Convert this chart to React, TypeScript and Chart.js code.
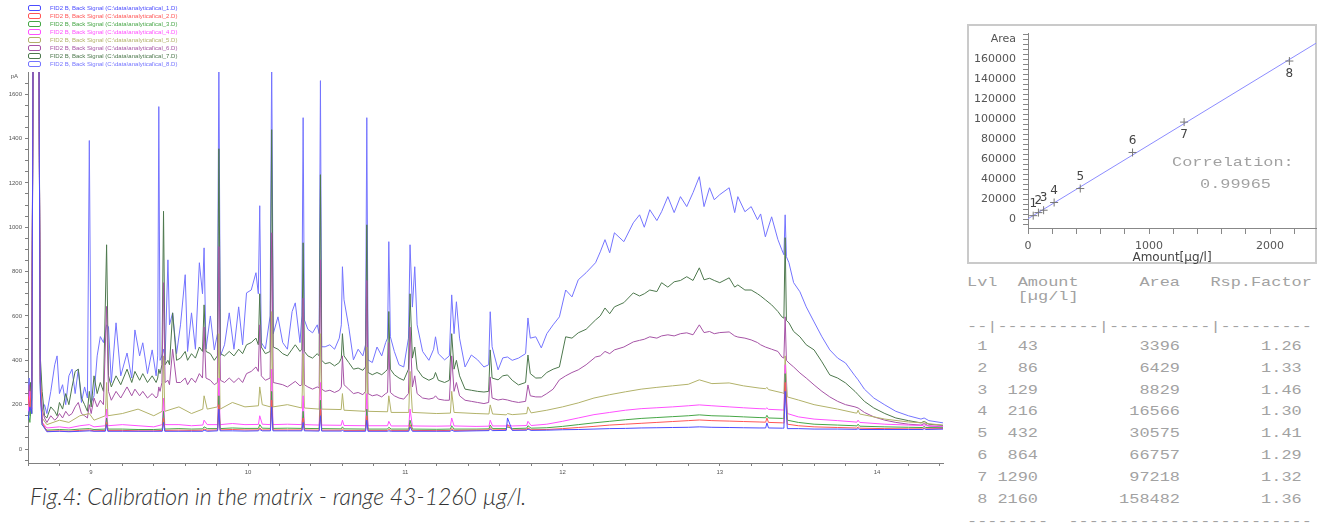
import React, { useEffect, useRef } from 'react';
import { Chart, registerables } from 'chart.js';
Chart.register(...registerables);

// ---------- Chromatogram data ----------
const seriesNames = [
  'FID2 B, Back Signal (C:\\data\\analytical\\cal_1.D)',
  'FID2 B, Back Signal (C:\\data\\analytical\\cal_2.D)',
  'FID2 B, Back Signal (C:\\data\\analytical\\cal_3.D)',
  'FID2 B, Back Signal (C:\\data\\analytical\\cal_4.D)',
  'FID2 B, Back Signal (C:\\data\\analytical\\cal_5.D)',
  'FID2 B, Back Signal (C:\\data\\analytical\\cal_6.D)',
  'FID2 B, Back Signal (C:\\data\\analytical\\cal_7.D)',
  'FID2 B, Back Signal (C:\\data\\analytical\\cal_8.D)',
];
const seriesColors = ['#4c4cff', '#ff5656', '#46a646', '#ff50ff', '#b2b26a', '#a654a6', '#4d784d', '#7474ff'];

const timesFine = [
  8.600, 8.608, 8.616, 8.624, 8.632, 8.640, 8.670, 8.678, 8.690, 8.705,
  8.720, 8.745, 8.770, 8.785, 8.800, 8.820, 8.840, 8.860, 8.880, 8.900,
  8.920, 8.940, 8.960, 8.978, 8.990, 9.002, 9.020, 9.040, 9.060, 9.080,
  9.100, 9.112, 9.130, 9.160, 9.190, 9.230, 9.260, 9.280, 9.310, 9.330,
  9.360, 9.390, 9.415, 9.425, 9.432, 9.440, 9.452, 9.462, 9.472, 9.490,
  9.500, 9.520, 9.545, 9.570, 9.600, 9.615, 9.640, 9.665, 9.690, 9.710,
  9.720, 9.732, 9.760, 9.785, 9.805, 9.814, 9.824, 9.850, 9.880, 9.910,
  9.940, 9.965, 9.990, 10.020, 10.050, 10.065, 10.074, 10.084, 10.110, 10.140,
  10.150, 10.160, 10.190, 10.220, 10.250, 10.280, 10.300, 10.330, 10.342, 10.350,
  10.358, 10.380, 10.410, 10.440, 10.452, 10.460, 10.468, 10.490, 10.520, 10.550,
  10.580, 10.593, 10.600, 10.610, 10.640, 10.670, 10.700, 10.730, 10.747, 10.755,
  10.763, 10.790, 10.820, 10.850, 10.875, 10.887, 10.895, 10.905, 10.930, 10.960,
  10.990, 11.020, 11.030, 11.045, 11.060, 11.075, 11.110, 11.150, 11.180, 11.192,
  11.210, 11.250, 11.280, 11.295, 11.310, 11.325, 11.345, 11.380, 11.420, 11.460,
  11.500, 11.530, 11.540, 11.552, 11.590, 11.620, 11.650, 11.680, 11.720, 11.765,
  11.780, 11.795, 11.830, 11.865, 11.900, 11.940, 11.980, 12.020, 12.060, 12.100,
  12.150, 12.210, 12.240, 12.270, 12.300, 12.330, 12.390, 12.450, 12.490, 12.520,
  12.555, 12.600, 12.630, 12.670, 12.710, 12.750, 12.790, 12.830, 12.870, 12.900,
  12.935, 12.965, 13.000, 13.060, 13.095, 13.115, 13.160, 13.200, 13.240, 13.260,
  13.290, 13.330, 13.370, 13.395, 13.408, 13.416, 13.424, 13.440, 13.470, 13.510,
  13.550, 13.600, 13.650, 13.700, 13.750, 13.800, 13.860, 13.880, 13.920, 13.980,
  14.050, 14.120, 14.200, 14.280, 14.300, 14.330, 14.420,
];

const level8Signal = [
  260, 320, 200, 280, 1760, 1760, 1760, 380, 170, 200,
  160, 260, 380, 420, 250, 290, 200, 330, 360, 250,
  360, 210, 280, 230, 1391, 210, 240, 420, 507, 480,
  560, 551, 300, 569, 330, 433, 320, 537, 420, 479,
  340, 447, 330, 420, 1544, 400, 420, 450, 402, 853,
  560, 614, 430, 560, 786, 440, 614, 450, 840, 700,
  907, 451, 600, 447, 520, 1760, 420, 470, 614, 450,
  641, 470, 704, 717, 795, 700, 1097, 480, 451, 600,
  1760, 520, 596, 480, 450, 620, 659, 480, 600, 1494,
  582, 540, 524, 560, 520, 1661, 461, 461, 470, 450,
  500, 560, 822, 673, 551, 402, 450, 420, 470, 1494,
  402, 390, 460, 420, 480, 500, 935, 506, 440, 380,
  370, 500, 921, 640, 822, 560, 440, 400, 450, 506,
  430, 402, 420, 695, 520, 664, 500, 370, 424, 402,
  370, 380, 619, 461, 357, 411, 415, 400, 410, 430,
  591, 500, 506, 456, 520, 560, 596, 717, 686, 763,
  795, 840, 889, 944, 885, 975, 935, 1020, 1056, 1000,
  1079, 1030, 1070, 1138, 1066, 1138, 1093, 1156, 1228, 1093,
  1178, 1124, 1147, 1178, 1066, 1138, 1070, 1093, 1034, 1060,
  957, 1047, 944, 898, 876, 1056, 867, 840, 750, 709,
  641, 573, 506, 447, 410, 388, 330, 312, 270, 230,
  199, 170, 150, 135, 140, 128, 118,
];

const level7Signal = [
  230, 180, 300, 160, 1760, 1760, 1760, 420, 260, 150,
  140, 190, 170, 150, 210, 180, 250, 200, 280, 350,
  360, 230, 200, 170, 260, 190, 330, 250, 300, 260,
  921, 330, 280, 330, 290, 360, 300, 350, 310, 340,
  300, 330, 300, 320, 360, 340, 380, 1072, 380, 400,
  380, 614, 400, 410, 440, 400, 430, 410, 460, 440,
  650, 440, 430, 400, 420, 1354, 430, 420, 440, 420,
  450, 430, 470, 480, 500, 470, 700, 460, 430, 440,
  1440, 460, 450, 430, 420, 450, 470, 440, 450, 930,
  440, 420, 410, 430, 420, 1237, 400, 385, 390, 375,
  390, 410, 520, 420, 390, 360, 365, 355, 370, 1011,
  345, 335, 345, 335, 350, 360, 620, 360, 335, 320,
  310, 360, 700, 410, 460, 360, 325, 310, 320, 345,
  310, 300, 310, 520, 360, 400, 330, 270, 265, 260,
  257, 260, 447, 320, 312, 330, 334, 310, 289, 300,
  424, 340, 320, 321, 345, 360, 370, 506, 500, 524,
  540, 582, 600, 636, 610, 641, 660, 704, 690, 700,
  717, 710, 750, 730, 754, 760, 777, 760, 817, 763,
  770, 760, 750, 772, 730, 740, 717, 717, 700, 690,
  673, 650, 620, 596, 590, 953, 580, 569, 530, 506,
  470, 447, 393, 334, 320, 298, 260, 245, 215, 185,
  160, 140, 128, 118, 125, 112, 106,
];

const level6Signal = [
  190, 290, 150, 320, 1760, 1760, 1760, 300, 180, 140,
  120, 150, 130, 140, 160, 140, 170, 150, 160, 190,
  210, 160, 150, 140, 200, 160, 230, 190, 220, 200,
  643, 260, 220, 260, 230, 280, 240, 270, 240, 260,
  230, 250, 230, 240, 280, 260, 300, 750, 300, 310,
  290, 450, 300, 300, 320, 290, 320, 300, 340, 320,
  550, 320, 310, 290, 300, 913, 310, 300, 320, 300,
  320, 300, 340, 350, 370, 350, 560, 330, 310, 320,
  975, 300, 295, 290, 280, 295, 305, 285, 290, 680,
  290, 280, 270, 280, 275, 853, 270, 260, 265, 255,
  265, 280, 420, 290, 270, 250, 255, 245, 260, 760,
  250, 240, 245, 235, 250, 255, 480, 255, 240, 230,
  225, 250, 550, 280, 330, 250, 230, 225, 230, 240,
  225, 220, 220, 420, 260, 300, 240, 220, 215, 210,
  205, 210, 325, 230, 221, 225, 221, 215, 210, 215,
  289, 240, 235, 235, 250, 270, 312, 330, 345, 357,
  380, 415, 420, 440, 430, 447, 460, 483, 490, 495,
  506, 500, 510, 515, 510, 520, 524, 515, 560, 525,
  530, 520, 525, 528, 510, 505, 500, 492, 480, 470,
  460, 450, 440, 415, 410, 596, 400, 388, 370, 343,
  320, 289, 260, 235, 215, 200, 190, 185, 165, 145,
  130, 120, 112, 108, 115, 104, 100,
];

const timesCoarse = [
  8.600, 8.612, 8.624, 8.632, 8.670, 8.678, 8.690, 8.720, 8.800, 8.860,
  8.930, 8.990, 9.020, 9.092, 9.100, 9.108, 9.200, 9.300, 9.400, 9.454,
  9.462, 9.470, 9.560, 9.640, 9.712, 9.720, 9.740, 9.806, 9.814, 9.822,
  9.900, 9.980, 10.066, 10.074, 10.090, 10.142, 10.150, 10.158, 10.250, 10.342,
  10.350, 10.358, 10.452, 10.460, 10.468, 10.592, 10.600, 10.610, 10.747, 10.755,
  10.763, 10.887, 10.895, 10.910, 11.022, 11.030, 11.045, 11.200, 11.287, 11.295,
  11.310, 11.450, 11.532, 11.540, 11.555, 11.642, 11.650, 11.680, 11.772, 11.780,
  11.800, 11.900, 12.000, 12.100, 12.200, 12.300, 12.400, 12.500, 12.600, 12.700,
  12.800, 12.870, 12.950, 13.060, 13.150, 13.250, 13.292, 13.300, 13.310, 13.400,
  13.408, 13.416, 13.430, 13.500, 13.600, 13.750, 13.860, 13.872, 13.880, 13.890,
  14.050, 14.200, 14.292, 14.300, 14.310, 14.420,
];

const level5Signal = [
  200, 150, 260, 1760, 1760, 350, 140, 110, 130, 120,
  150, 160, 130, 150, 300, 150, 160, 180, 150, 170,
  420, 170, 190, 160, 180, 240, 180, 190, 520, 180,
  210, 190, 195, 280, 200, 190, 620, 190, 200, 185,
  430, 185, 180, 520, 180, 178, 250, 175, 170, 460,
  170, 168, 240, 165, 165, 350, 165, 160, 162, 260,
  165, 160, 158, 199, 158, 154, 160, 155, 160, 190,
  163, 175, 190, 208, 230, 245, 258, 270, 278, 285,
  292, 312, 295, 298, 285, 275, 272, 278, 268, 253,
  250, 420, 235, 221, 200, 180, 163, 162, 175, 158,
  135, 122, 118, 125, 115, 108,
];

const level4Signal = [
  150, 260, 180, 1760, 1760, 300, 120, 95, 100, 95,
  105, 110, 100, 105, 180, 105, 110, 105, 100, 110,
  230, 110, 110, 105, 108, 130, 110, 110, 320, 110,
  115, 110, 111, 150, 112, 110, 360, 110, 112, 110,
  240, 110, 108, 300, 108, 107, 130, 106, 105, 250,
  105, 105, 125, 104, 104, 180, 104, 103, 104, 140,
  104, 102, 103, 130, 104, 104, 108, 104, 106, 125,
  106, 112, 125, 140, 155, 165, 175, 182, 186, 190,
  195, 199, 195, 190, 186, 182, 181, 186, 179, 176,
  175, 380, 160, 145, 135, 128, 122, 121, 130, 120,
  112, 108, 106, 110, 105, 102,
];

const level3Signal = [
  170, 120, 230, 1760, 1760, 280, 110, 85, 88, 86,
  90, 92, 88, 90, 140, 90, 90, 88, 88, 90,
  170, 90, 92, 90, 91, 100, 92, 92, 240, 92,
  95, 93, 93, 110, 94, 93, 260, 93, 94, 93,
  170, 93, 92, 220, 92, 91, 100, 91, 90, 180,
  90, 90, 98, 90, 90, 130, 90, 89, 90, 105,
  90, 90, 91, 108, 92, 92, 100, 92, 94, 105,
  94, 96, 102, 110, 118, 125, 132, 138, 142, 146,
  150, 154, 150, 148, 145, 142, 141, 152, 140, 138,
  137, 340, 130, 120, 112, 108, 105, 104, 112, 103,
  100, 98, 97, 102, 97, 96,
];

const level2Signal = [
  240, 180, 300, 1760, 1760, 320, 120, 80, 82, 80,
  84, 86, 82, 84, 120, 84, 84, 82, 82, 84,
  140, 84, 85, 84, 85, 90, 85, 86, 200, 86,
  88, 86, 86, 95, 86, 86, 220, 86, 86, 86,
  140, 86, 85, 180, 85, 85, 90, 84, 84, 150,
  84, 84, 88, 84, 84, 110, 84, 83, 84, 92,
  84, 85, 86, 96, 86, 87, 110, 86, 87, 95,
  87, 88, 92, 97, 102, 108, 112, 116, 120, 124,
  128, 131, 128, 126, 124, 122, 121, 140, 120, 118,
  117, 300, 112, 105, 100, 97, 95, 94, 100, 94,
  92, 91, 91, 96, 91, 92,
];

const level1Signal = [
  130, 190, 160, 1760, 1760, 260, 110, 78, 80, 78,
  80, 82, 80, 80, 110, 80, 80, 80, 80, 80,
  120, 80, 80, 80, 80, 85, 80, 82, 180, 82,
  82, 81, 82, 88, 82, 82, 190, 82, 82, 82,
  120, 82, 81, 150, 81, 81, 84, 80, 80, 130,
  80, 80, 82, 80, 80, 100, 80, 80, 80, 86,
  80, 82, 83, 90, 83, 84, 140, 84, 85, 90,
  84, 85, 87, 88, 90, 92, 93, 95, 96, 97,
  98, 100, 98, 97, 96, 95, 95, 118, 95, 94,
  94, 260, 92, 92, 90, 90, 89, 89, 92, 88,
  88, 88, 88, 92, 88, 90,
];

const xTickLabels = [9, 10, 11, 12, 13, 14];
const yTickLabels = [0, 200, 400, 600, 800, 1000, 1200, 1400, 1600];
const yUnitLabel = 'pA';

// ---------- Calibration data ----------
const calibLevels = [1, 2, 3, 4, 5, 6, 7, 8];
const calibAmounts = [43, 86, 129, 216, 432, 864, 1290, 2160];
const calibAreas = [3396, 6429, 8829, 16566, 30575, 66757, 97218, 158482];
const calibRspFactors = ['1.26', '1.33', '1.46', '1.30', '1.41', '1.29', '1.32', '1.36'];
const fitAmounts = [0, 2380];
const fitAreas = [259, 176340];
const correlationValue = '0.99965';
const calibYTickLabels = [0, 20000, 40000, 60000, 80000, 100000, 120000, 140000, 160000];
const calibXTickLabels = [0, 1000, 2000];

// label placement (style only)
const calibLabelBelow = [false, false, false, false, false, false, true, true];

const signalSets = [
  { times: timesCoarse, values: level1Signal },
  { times: timesCoarse, values: level2Signal },
  { times: timesCoarse, values: level3Signal },
  { times: timesCoarse, values: level4Signal },
  { times: timesCoarse, values: level5Signal },
  { times: timesFine, values: level6Signal },
  { times: timesFine, values: level7Signal },
  { times: timesFine, values: level8Signal },
];

const unitLabelPlugin = {
  id: 'unitLabel',
  afterDraw(chart: any) {
    const { ctx, chartArea, scales } = chart;
    ctx.save();
    ctx.fillStyle = '#555';
    ctx.font = '6px "Liberation Sans", Arial, sans-serif';
    ctx.textAlign = 'right';
    ctx.textBaseline = 'middle';
    ctx.fillText(yUnitLabel, chartArea.left - 10, scales.y.getPixelForValue(1680));
    ctx.restore();
  },
};

const calibLabelPlugin = {
  id: 'calibLabels',
  afterDatasetsDraw(chart: any) {
    const { ctx, scales } = chart;
    ctx.save();
    ctx.fillStyle = '#444';
    ctx.font = '12px "DejaVu Sans", sans-serif';
    ctx.textAlign = 'center';
    ctx.textBaseline = 'middle';
    calibLevels.forEach((lvl, i) => {
      const px = scales.x.getPixelForValue(calibAmounts[i]);
      const py = scales.y.getPixelForValue(calibAreas[i]);
      const dy = calibLabelBelow[i] ? 13 : -12;
      ctx.fillText(String(lvl), px, py + dy);
    });
    ctx.restore();
  },
};

const pad = (s: string, n: number) => s.padStart(n, ' ');
const tableHeader = 'Lvl  Amount      Area   Rsp.Factor';
const tableUnit = '     [\u00b5g/l]';
const tableRule = '--|----------|----------|---------';
const tableFoot = '--------  ------------------------';
const tableRows = calibLevels.map(
  (lvl, i) => ' ' + String(lvl) + pad(String(calibAmounts[i]), 5) + pad(String(calibAreas[i]), 14) + pad(calibRspFactors[i], 12)
);

export default function App() {
  const chromRef = useRef<HTMLCanvasElement>(null);
  const calRef = useRef<HTMLCanvasElement>(null);

  useEffect(() => {
    const axisColor = '#808080';
    const chrom = new Chart(chromRef.current as HTMLCanvasElement, {
      type: 'line',
      data: {
        datasets: signalSets.map((s, i) => ({
          label: seriesNames[i],
          data: s.times.map((t, j) => ({ x: t, y: s.values[j] })),
          borderColor: seriesColors[i],
          backgroundColor: seriesColors[i],
          borderWidth: 1,
          pointRadius: 0,
          tension: 0,
          fill: false,
        })),
      },
      options: {
        responsive: false,
        animation: false,
        layout: { padding: { top: 72, right: 7, left: 0, bottom: 0 } },
        plugins: { legend: { display: false }, tooltip: { enabled: false } },
        scales: {
          x: {
            type: 'linear',
            min: 8.6,
            max: 14.42,
            afterBuildTicks: (scale: any) => {
              const ticks = [];
              for (let k = 0; k <= 29; k++) ticks.push({ value: Math.round((8.6 + 0.2 * k) * 10) / 10 });
              scale.ticks = ticks;
            },
            afterFit: (scale: any) => { scale.height = 17; },
            grid: { drawOnChartArea: false, tickLength: 3, color: axisColor },
            border: { color: axisColor },
            ticks: {
              autoSkip: false,
              maxRotation: 0,
              padding: 3,
              color: '#555',
              font: { size: 6, family: '"Liberation Sans", Arial, sans-serif' },
              callback: (v: any) => (xTickLabels.includes(Math.round(Number(v) * 10) / 10) ? String(v) : ''),
            },
          },
          y: {
            type: 'linear',
            min: -63,
            max: 1700,
            afterBuildTicks: (scale: any) => {
              const ticks = [];
              for (let v = -50; v <= 1650; v += 50) ticks.push({ value: v });
              scale.ticks = ticks;
            },
            afterFit: (scale: any) => { scale.width = 28; },
            grid: { drawOnChartArea: false, tickLength: 3, color: axisColor },
            border: { color: axisColor },
            ticks: {
              autoSkip: false,
              padding: 3,
              color: '#555',
              font: { size: 6, family: '"Liberation Sans", Arial, sans-serif' },
              callback: (v: any) => (yTickLabels.includes(Number(v)) ? String(v) : ''),
            },
          },
        },
      },
      plugins: [unitLabelPlugin],
    } as any);

    const cal = new Chart(calRef.current as HTMLCanvasElement, {
      type: 'scatter',
      data: {
        datasets: [
          {
            label: 'levels',
            data: calibAmounts.map((a, i) => ({ x: a, y: calibAreas[i] })),
            pointStyle: 'cross',
            pointRadius: 4,
            borderColor: '#777',
            borderWidth: 1,
            showLine: false,
          },
          {
            label: 'fit',
            data: fitAmounts.map((a, i) => ({ x: a, y: fitAreas[i] })),
            showLine: true,
            pointRadius: 0,
            borderColor: '#8c8cff',
            borderWidth: 1,
          },
        ],
      },
      options: {
        responsive: false,
        animation: false,
        layout: { padding: { top: 5, right: 10, left: 0, bottom: 0 } },
        plugins: { legend: { display: false }, tooltip: { enabled: false } },
        scales: {
          x: {
            type: 'linear',
            min: 0,
            max: 2380,
            afterBuildTicks: (scale: any) => {
              const ticks = [];
              for (let v = 0; v <= 2200; v += 200) ticks.push({ value: v });
              scale.ticks = ticks;
            },
            afterFit: (scale: any) => { scale.height = 42; },
            grid: { drawOnChartArea: false, tickLength: 6, color: '#888' },
            border: { color: '#888' },
            title: {
              display: true,
              text: 'Amount[\u00b5g/l]',
              color: '#444',
              font: { size: 12, family: '"DejaVu Sans", sans-serif' },
              padding: { top: 0, bottom: 5 },
            },
            ticks: {
              autoSkip: false,
              maxRotation: 0,
              padding: 6,
              color: '#555',
              font: { size: 11, family: '"DejaVu Sans", sans-serif' },
              callback: (v: any) => (calibXTickLabels.includes(Number(v)) ? String(v) : ''),
            },
          },
          y: {
            type: 'linear',
            min: -9000,
            max: 186000,
            afterBuildTicks: (scale: any) => {
              const ticks = [];
              for (let v = -5000; v <= 185000; v += 5000) ticks.push({ value: v });
              scale.ticks = ticks;
            },
            afterFit: (scale: any) => { scale.width = 68; },
            grid: { drawOnChartArea: false, tickLength: 5, color: '#888' },
            border: { color: '#888' },
            ticks: {
              autoSkip: false,
              padding: 7,
              color: '#555',
              font: { size: 11, family: '"DejaVu Sans", sans-serif' },
              callback: (v: any) => {
                const n = Number(v);
                if (n === 180000) return 'Area';
                return calibYTickLabels.includes(n) ? String(n) : '';
              },
            },
          },
        },
      },
      plugins: [calibLabelPlugin],
    } as any);

    return () => {
      chrom.destroy();
      cal.destroy();
    };
  }, []);

  const mono: React.CSSProperties = {
    position: 'absolute',
    left: 967,
    height: 16,
    lineHeight: '16px',
    fontFamily: '"Liberation Mono", "DejaVu Sans Mono", monospace',
    fontSize: 13,
    color: '#a2a2a2',
    whiteSpace: 'pre',
    transform: 'scaleX(1.3)',
    transformOrigin: 'left center',
    margin: 0,
  };

  return (
    <div style={{ position: 'fixed', left: 0, top: 0, width: 1326, height: 523, background: '#fff', overflow: 'hidden' }}>
      <canvas ref={chromRef} width={950} height={480} style={{ position: 'absolute', left: 0, top: 0 }} />

      <div style={{ position: 'absolute', left: 28, top: 4 }}>
        {seriesNames.map((n, i) => (
          <div key={i} style={{ display: 'flex', alignItems: 'center', height: 8 }}>
            <span
              style={{
                display: 'inline-block',
                width: 11,
                height: 4,
                border: `1px solid ${seriesColors[i]}`,
                borderRadius: 2,
                background: '#fff',
              }}
            />
            <span
              style={{
                marginLeft: 9,
                color: seriesColors[i],
                fontSize: 6,
                fontFamily: '"Liberation Sans", Arial, sans-serif',
                whiteSpace: 'nowrap',
                lineHeight: '8px',
              }}
            >
              {n}
            </span>
          </div>
        ))}
      </div>

      <div
        style={{
          position: 'absolute',
          left: 30,
          top: 480,
          fontFamily: 'Lato, "Open Sans", sans-serif',
          fontStyle: 'italic',
          fontWeight: 300,
          fontSize: 23,
          lineHeight: '32px',
          color: '#333',
          whiteSpace: 'nowrap',
        }}
      >
        Fig.4: Calibration in the matrix - range 43-1260 µg/l.
      </div>

      <div
        style={{
          position: 'absolute',
          left: 967,
          top: 24,
          width: 350,
          height: 240,
          border: '2px solid #cacaca',
          boxSizing: 'border-box',
        }}
      />
      <canvas ref={calRef} width={366} height={250} style={{ position: 'absolute', left: 960, top: 20 }} />

      <div style={{ ...mono, left: 1172, top: 153, height: 20, lineHeight: '20px' }}>Correlation:</div>
      <div style={{ ...mono, left: 1200, top: 175, height: 20, lineHeight: '20px' }}>{correlationValue}</div>

      <div style={{ ...mono, top: 283 - 8 }}>{tableHeader}</div>
      <div style={{ ...mono, top: 297 - 8 }}>{tableUnit}</div>
      <div style={{ ...mono, top: 327 - 8 }}>{tableRule}</div>
      {tableRows.map((r, i) => (
        <div key={i} style={{ ...mono, top: Math.round(346.7 + 21.9 * i) - 8 }}>{r}</div>
      ))}
      <div style={{ ...mono, top: 522 - 8 }}>{tableFoot}</div>
    </div>
  );
}
